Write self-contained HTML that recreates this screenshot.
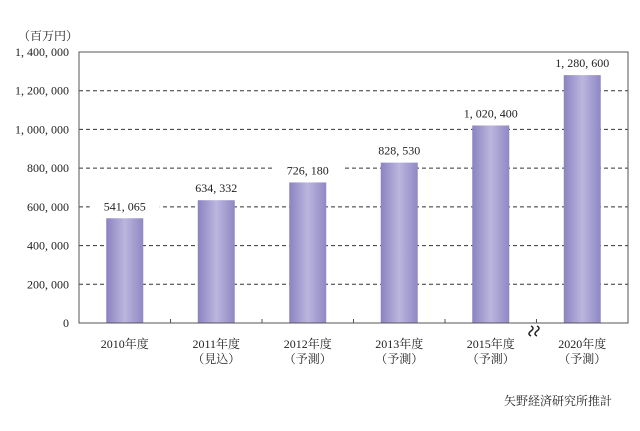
<!DOCTYPE html>
<html><head><meta charset="utf-8"><style>
body{margin:0;background:#fff;width:640px;height:426px;overflow:hidden}
svg text{font-family:"Liberation Serif","Noto Serif CJK SC",serif;fill:#222}
</style></head><body>
<svg width="640" height="426">
<defs><linearGradient id="g" x1="0" x2="1" y1="0" y2="0">
<stop offset="0" stop-color="#8a83c0"/><stop offset="0.5" stop-color="#bbb6de"/><stop offset="1" stop-color="#8f88c4"/></linearGradient></defs>
<g id="root"></g>
</svg>
<script>
const categories=["2010年度","2011年度","2012年度","2013年度","2015年度","2020年度"];
const subLabels=["","（見込）","（予測）","（予測）","（予測）","（予測）"];
const values=[541065,634332,726180,828530,1020400,1280600];
const valueLabels=["541, 065","634, 332","726, 180","828, 530","1, 020, 400","1, 280, 600"];
const yTicks=[0,200000,400000,600000,800000,1000000,1200000,1400000];
const yTickLabels=["0","200, 000","400, 000","600, 000","800, 000","1, 000, 000","1, 200, 000","1, 400, 000"];
const L=79,R=628,T=52,B=323,yMax=1400000;
const root=document.getElementById('root');const NS='http://www.w3.org/2000/svg';
function y(v){return B-(v/yMax)*(B-T);}
const bw=(R-L)/categories.length;
function x(i){return L+bw*(i+0.5);}
function mk(t,a,p){const e=document.createElementNS(NS,t);for(const k in a)e.setAttribute(k,a[k]);(p||root).appendChild(e);return e;}
yTicks.forEach((v,i)=>{
 if(v>0&&v<yMax){const l=mk('line',{x1:L,x2:R,y1:y(v),y2:y(v),stroke:'#333','stroke-width':1,'stroke-dasharray':'4,3'});
 
 }
 const t=mk('text',{x:L-10,y:y(v)+4,'text-anchor':'end','font-size':12});t.textContent=yTickLabels[i];
 
 
});
values.forEach((v,i)=>{
 const r=mk('rect',{x:x(i)-18.5,y:y(v),width:37,height:B-y(v),fill:'url(#g)'});
 
 
 const bg=mk('rect',{x:x(i)-35,y:y(v)-20,width:70,height:15,fill:'#fff'});
 
 
 const t=mk('text',{x:x(i),y:y(v)-8,'text-anchor':'middle','font-size':12});t.textContent=valueLabels[i];
 
 
 const c=mk('text',{x:x(i),y:348,'text-anchor':'middle','font-size':12});c.textContent=categories[i];
 
 
 if(subLabels[i]){const s=mk('text',{x:x(i),y:363,'text-anchor':'middle','font-size':12});s.textContent=subLabels[i];
 
 }
});
for(let i=1;i<categories.length;i++){const tk=mk('line',{x1:L+bw*i,x2:L+bw*i,y1:B,y2:B-4,stroke:'#555'});
 
 }
const fr=mk('rect',{x:L,y:T,width:R-L,height:B-T,fill:'none',stroke:'#555','stroke-width':1});


const br=mk('path',{d:'M531,326 q4,2 0,5 q-4,3 0,5 M537,326 q4,2 0,5 q-4,3 0,5',fill:'none',stroke:'#222','stroke-width':1.5});


const u=mk('text',{x:18,y:40,'font-size':12});u.textContent='（百万円）';


const src=mk('text',{x:612,y:405,'text-anchor':'end','font-size':12});src.textContent='矢野経済研究所推計';


</script>
</body></html>
